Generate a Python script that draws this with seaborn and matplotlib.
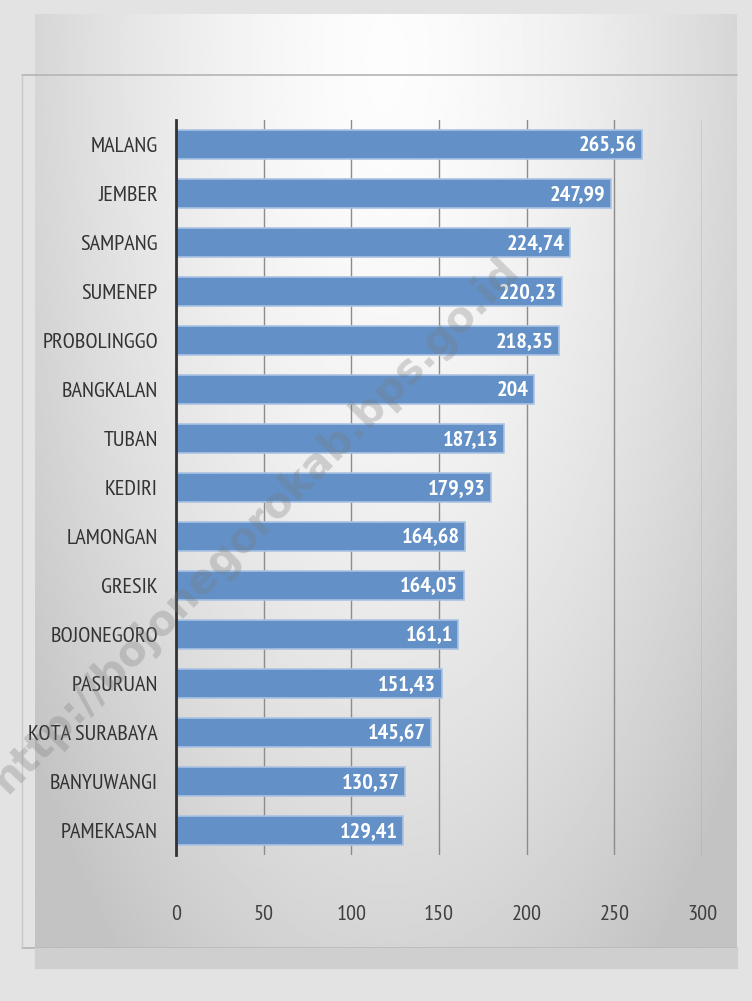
import numpy as np
import pandas as pd
import seaborn as sns
import matplotlib.pyplot as plt

# data
kabupaten = ['MALANG', 'JEMBER', 'SAMPANG', 'SUMENEP', 'PROBOLINGGO', 'BANGKALAN',
             'TUBAN', 'KEDIRI', 'LAMONGAN', 'GRESIK', 'BOJONEGORO', 'PASURUAN',
             'KOTA SURABAYA', 'BANYUWANGI', 'PAMEKASAN']
nilai = [265.56, 247.99, 224.74, 220.23, 218.35, 204, 187.13, 179.93,
         164.68, 164.05, 161.1, 151.43, 145.67, 130.37, 129.41]
label_nilai = ['265,56', '247,99', '224,74', '220,23', '218,35', '204', '187,13', '179,93',
               '164,68', '164,05', '161,1', '151,43', '145,67', '130,37', '129,41']
xticks = [0, 50, 100, 150, 200, 250, 300]

df = pd.DataFrame({'kab': kabupaten, 'nilai': nilai})

sns.set_theme(style='white')
plt.rcParams['font.family'] = ['PT Sans Narrow', 'DejaVu Sans']

W, H = 752, 1001
fig = plt.figure(figsize=(W / 100, H / 100), dpi=100)
fig.patch.set_facecolor('#e3e3e3')

# latar panel dengan gradasi
bg = fig.add_axes([0, 0, 1, 1], zorder=-10)
bg.set_xlim(0, W)
bg.set_ylim(H, 0)
bg.axis('off')
gx, gy = np.meshgrid(np.linspace(-1, 1, 300), np.linspace(0, 1, 400))
r = np.clip(np.sqrt(gx ** 2 + ((gy - 0.05) * 1.1) ** 2), 0, 1.3)
shade = 0.99 - 0.15 * r ** 1.6
bg.imshow(shade, cmap='gray', vmin=0, vmax=1, extent=[35, 737, 968, 14],
          aspect='auto', zorder=0)
bg.plot([22, 737], [75, 75], color='#b5b5b5', lw=1.2, zorder=1)
bg.plot([22, 737], [948, 948], color='#b5b5b5', lw=1.2, zorder=1)
bg.plot([22, 22], [75, 948], color='#c8c8c8', lw=1, zorder=1)
bg.fill_between([35, 737], 948, 968, color='#cfcfcf', zorder=1)

# grafik utama
ax = fig.add_axes([176 / W, 1 - 855 / H, (702 - 176) / W, (855 - 120) / H])
ax.patch.set_alpha(0)
sns.barplot(data=df, x='nilai', y='kab', color='#6391c7', edgecolor='#a9c3e3',
            linewidth=1.2, width=0.6, saturation=1, ax=ax, zorder=3)

ax.set_xlim(0, 300)
ax.set_ylim(14.5, -0.5)
ax.set_xticks(xticks)
ax.grid(axis='x', color='#8c8c8c', lw=1, zorder=0)
ax.grid(axis='y', visible=False)
for s in ['top', 'right', 'bottom']:
    ax.spines[s].set_visible(False)
ax.spines['left'].set_color('#333333')
ax.spines['left'].set_linewidth(2)
ax.spines['left'].set_zorder(4)
ax.set_xlabel('')
ax.set_ylabel('')
ax.tick_params(axis='y', length=0, pad=13, labelsize=16, labelcolor='#333333')
ax.tick_params(axis='x', length=0, pad=36, labelsize=16, labelcolor='#404040')

for i, (v, lab) in enumerate(zip(nilai, label_nilai)):
    ax.text(v - 3, i + 0.03, lab, ha='right', va='center', color='white',
            fontsize=16, fontweight='bold', zorder=5)

# watermark
fig.text(255 / W, 1 - 525 / H, 'http://bojonegorokab.bps.go.id', rotation=45.5,
         ha='center', va='center', fontsize=30, fontweight='bold',
         family='DejaVu Sans', color='#7a7a7a', alpha=0.3, zorder=20)

fig.savefig('out.png', dpi=100, facecolor=fig.get_facecolor())
